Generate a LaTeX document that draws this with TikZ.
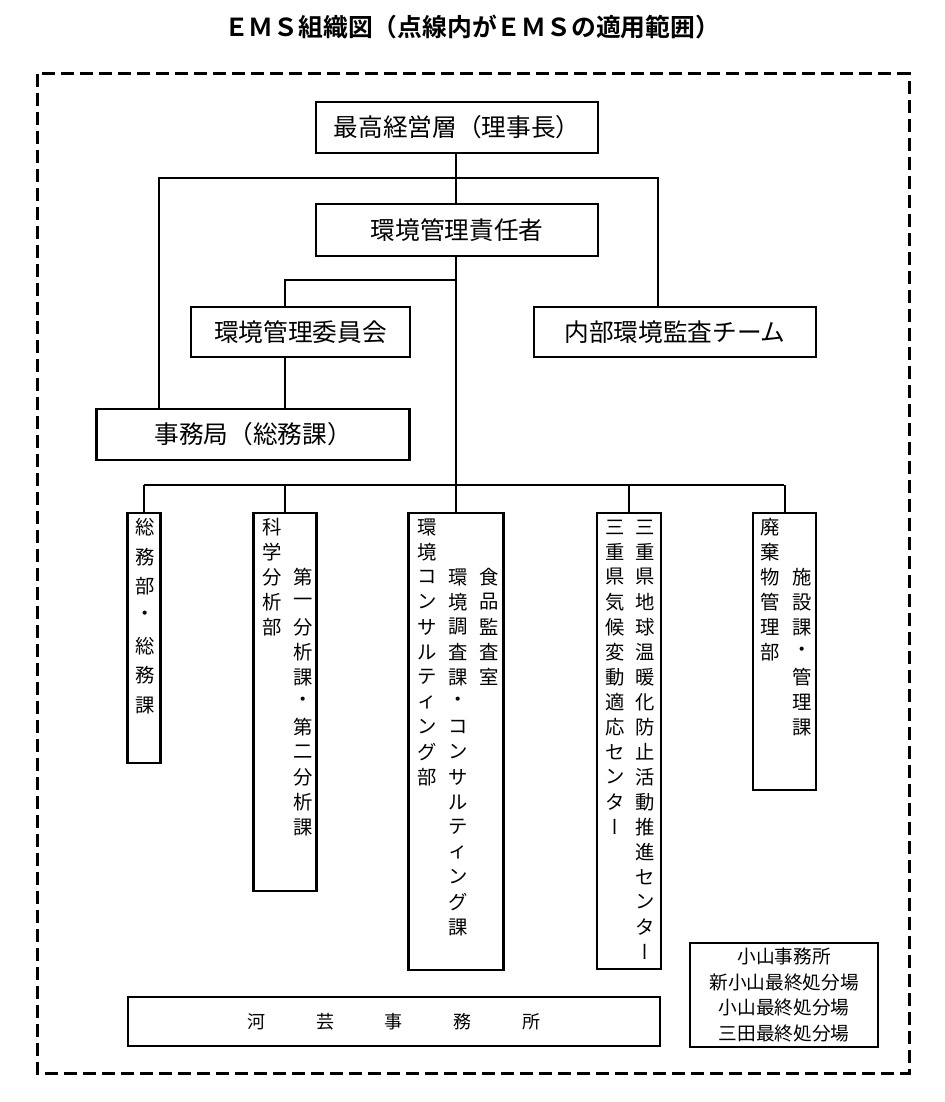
\documentclass[tikz,border=0pt]{standalone}
\usepackage{fontspec}
\setmainfont{Noto Sans CJK JP}[BoldFont={Noto Sans CJK JP Bold}]
\newfontfamily\vfont{Noto Sans CJK JP}[RawFeature=+vert]
\usepackage{tikz}
\usetikzlibrary{positioning}

\begin{document}
\begin{tikzpicture}[x=0.75pt,y=-0.75pt,
  box/.style={draw, line width=2pt, inner sep=0pt, font=\fontsize{18.5pt}{22pt}\selectfont},
  conn/.style={line width=1.5pt},
  vchar/.style={inner sep=0pt, font=\fontsize{14.5pt}{17pt}\selectfont}]
\useasboundingbox (0,0) rectangle (945,1102);
\node[font=\bfseries\fontsize{18.6pt}{21pt}\selectfont] (title) at (472,27) {ＥＭＳ組織図（点線内がＥＭＳの適用範囲）};
\draw[line width=2.25pt, dash pattern=on 9.75pt off 4.5pt] (37,74) rectangle (909,1073); %scope of the EMS
%
\node[box, minimum width=282*0.75pt, minimum height=51*0.75pt] (top) at (457,127.5) {最高経営層（理事長）};
\node[box, minimum width=282*0.75pt, minimum height=52*0.75pt] (mgr) at (457,230) {環境管理責任者};
\node[box, minimum width=219*0.75pt, minimum height=50*0.75pt] (comm) at (300.5,332) {環境管理委員会};
\node[box, minimum width=282*0.75pt, minimum height=50*0.75pt] (audit) at (675,332) {内部環境監査チーム};
\node[box, minimum width=313*0.75pt, minimum height=51*0.75pt] (jim) at (253,434.5) {事務局（総務課）};
%
\coordinate (jL) at (159,178);
\coordinate (jR) at (658,178);
\coordinate (cb) at (285,280);
\coordinate (sp) at (456,485);
\coordinate (bL) at (144,485);
\coordinate (bR) at (784,485);
\draw[conn] (top.south -| sp) -- (mgr.north -| sp);
\draw[conn] (mgr.south -| sp) -- (sp);
\draw[conn] (jim.north -| jL) -- (jL) -- (jR) -- (audit.north -| jR);
\draw[conn] (cb -| sp) -- (cb) -- (comm.north -| cb);
\draw[conn] (comm.south -| cb) -- (jim.north -| cb);
\draw[conn] (bL) -- (bR);
%
\node[box, minimum width=33*0.75pt, minimum height=250*0.75pt] (d1) at (144,638) {};
\node[box, minimum width=63*0.75pt, minimum height=378*0.75pt] (d2) at (285,702) {};
\node[box, minimum width=95*0.75pt, minimum height=457*0.75pt] (d3) at (456,741.5) {};
\node[box, minimum width=64*0.75pt, minimum height=456*0.75pt] (d4) at (629,741) {};
\node[box, minimum width=63*0.75pt, minimum height=277*0.75pt] (d5) at (784.5,651.5) {};
\foreach \d in {d1,d2,d3,d4,d5}
  \draw[conn] (\d.north) -- (\d.north |- sp);
%
\foreach \c [count=\i] in {総,務,部,・,総,務,課}
  \node[vchar] (d1a\i) at (145,{527+29.7*(\i-1)}) {\c};
%
\foreach \c [count=\i] in {科,学,分,析,部}
  \node[vchar] (d2a\i) at (272,{527+25*(\i-1)}) {\c};
\foreach \c [count=\i] in {第,一,分,析,課,・,第,二,分,析,課}
  \node[vchar] (d2b\i) at (303,{577+25*(\i-1)}) {\c};
%
\foreach \c [count=\i] in {環,境,コ,ン,サ,ル,テ,ィ,ン,グ,部}
  \node[vchar] (d3a\i) at (427,{527+25*(\i-1)}) {\c};
\foreach \c [count=\i] in {環,境,調,査,課,・,コ,ン,サ,ル,テ,ィ,ン,グ,課}
  \node[vchar] (d3b\i) at (458,{577+25*(\i-1)}) {\c};
\foreach \c [count=\i] in {食,品,監,査,室}
  \node[vchar] (d3c\i) at (489,{577+25*(\i-1)}) {\c};
%
\foreach \c [count=\i] in {三,重,県,気,候,変,動,適,応,セ,ン,タ,{\vfont ー}}
  \node[vchar] (d4a\i) at (615,{527+25*(\i-1)}) {\c};
\foreach \c [count=\i] in {三,重,県,地,球,温,暖,化,防,止,活,動,推,進,セ,ン,タ,{\vfont ー}}
  \node[vchar] (d4b\i) at (645,{527+25*(\i-1)}) {\c};
%
\foreach \c [count=\i] in {廃,棄,物,管,理,部}
  \node[vchar] (d5a\i) at (770,{527+25*(\i-1)}) {\c};
\foreach \c [count=\i] in {施,設,課,・,管,理,課}
  \node[vchar] (d5b\i) at (802,{577+25*(\i-1)}) {\c};
%
\node[box, minimum width=532*0.75pt, minimum height=49*0.75pt, font=\fontsize{13.5pt}{16pt}\selectfont] (kawage) at (394,1021.5) {河\hspace{38pt}芸\hspace{38pt}事\hspace{38pt}務\hspace{38pt}所};
\node[box, minimum width=188*0.75pt, minimum height=104*0.75pt, align=center, font=\fontsize{14pt}{19.3pt}\selectfont] (oyama) at (784,995) {小山事務所\\新小山最終処分場\\小山最終処分場\\三田最終処分場};
\end{tikzpicture}
\end{document}
